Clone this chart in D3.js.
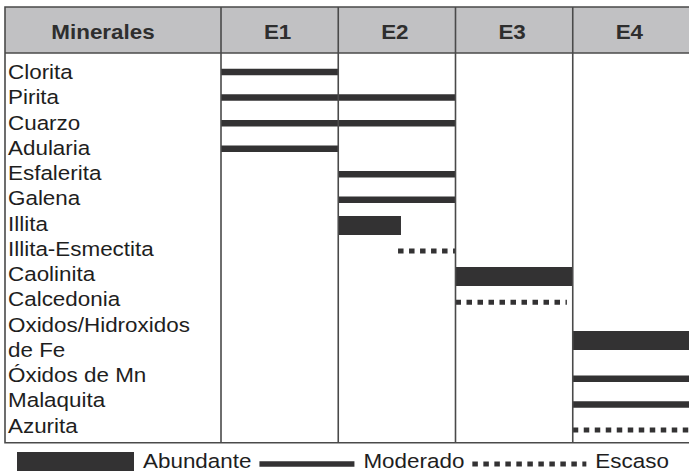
<!DOCTYPE html>
<html>
<head>
<meta charset="utf-8">
<script src="https://cdn.jsdelivr.net/npm/d3@7"></script>
<style>
  html, body { margin: 0; padding: 0; background: #fff; }
  svg { display: block; font-family: "Liberation Sans", Arial, sans-serif; }
</style>
</head>
<body>
<div id="chart"></div>
<script>
// stages (columns) and minerals (rows, "\n" = two text lines)
const stages = ["E1", "E2", "E3", "E4"];
const minerals = [
  "Clorita", "Pirita", "Cuarzo", "Adularia", "Esfalerita", "Galena", "Illita",
  "Illita-Esmectita", "Caolinita", "Calcedonia", "Oxidos/Hidroxidos\nde Fe",
  "Óxidos de Mn", "Malaquita", "Azurita"
];
const levels = ["Abundante", "Moderado", "Escaso"];

// occurrence: mineral, start stage, end stage (0 = start of E1, 4 = end of E4), abundance
const occMineral = ["Clorita", "Pirita", "Cuarzo", "Adularia", "Esfalerita", "Galena", "Illita",
  "Illita-Esmectita", "Caolinita", "Calcedonia", "Oxidos/Hidroxidos\nde Fe", "Óxidos de Mn",
  "Malaquita", "Azurita"];
const occStart = [0, 0, 0, 0, 1, 1, 1, 1.51, 2, 2, 3, 3, 3, 3];
const occEnd = [1, 2, 2, 1, 2, 2, 1.535, 2, 3, 2.95, 4, 4, 4, 4];
const occLevel = ["Moderado", "Moderado", "Moderado", "Moderado", "Moderado", "Moderado", "Abundante",
  "Escaso", "Abundante", "Escaso", "Abundante", "Moderado", "Moderado", "Escaso"];

const width = 689;
const height = 472;
const ink = "#333233";
const grid = "#4a4a4a";
const sx = 1.15; // the original lettering is slightly stretched

const styles = {
  Abundante: { w: 19, dash: null },
  Moderado: { w: 6.5, dash: null },
  Escaso: { w: 5, dash: "5.5,5.5" }
};

const svg = d3.select("#chart").append("svg")
  .attr("width", width)
  .attr("height", height)
  .attr("viewBox", [0, 0, width, height]);

const tLeft = 5, tTop = 7, headBottom = 53, tBottom = 442.7;

const x = d3.scaleLinear().domain([0, stages.length]).range([221, 690]);

// text line index for each mineral
let line = 0;
const rows = minerals.map(m => {
  const parts = m.split("\n");
  const r = { name: m, parts, first: line, mid: line + (parts.length - 1) / 2 };
  line += parts.length;
  return r;
});
const rowByName = new Map(rows.map(r => [r.name, r]));

const yLabel = d3.scaleLinear().domain([0, line - 1]).range([72, 425.7]);
const yBar = d3.scaleLinear().domain([0, line - 1]).range([72, 430]);

// header band
svg.append("rect")
  .attr("x", tLeft).attr("y", tTop)
  .attr("width", width - tLeft + 2).attr("height", headBottom - tTop)
  .attr("fill", "#c1c1c3");

// header texts (sit a little left of the column centres, as drawn)
const heads = ["Minerales"].concat(stages);
const headCenters = [(tLeft + x(0)) / 2 - 10].concat(stages.map((s, i) => (x(i) + x(i + 1)) / 2 - 2));
svg.append("g")
  .selectAll("text")
  .data(heads)
  .join("text")
  .attr("transform", (d, i) => `translate(${headCenters[i]},${39}) scale(${sx},1)`)
  .attr("text-anchor", "middle")
  .attr("font-size", "19.5px")
  .attr("font-weight", "bold")
  .attr("fill", "#2e2e2e")
  .text(d => d);

// mineral labels
svg.append("g")
  .selectAll("text")
  .data(rows.flatMap(r => r.parts.map((p, k) => ({ text: p, line: r.first + k }))))
  .join("text")
  .attr("transform", d => `translate(${8},${yLabel(d.line) + 7}) scale(${sx},1)`)
  .attr("font-size", "19.5px")
  .attr("fill", "#1e1e1e")
  .text(d => d.text);

// occurrence bars
const occ = occMineral.map((m, i) => ({ m, s: occStart[i], e: occEnd[i], level: occLevel[i] }));
svg.append("g")
  .selectAll("line")
  .data(occ)
  .join("line")
  .attr("x1", d => x(d.s))
  .attr("x2", d => x(d.e))
  .attr("y1", d => yBar(rowByName.get(d.m).mid))
  .attr("y2", d => yBar(rowByName.get(d.m).mid))
  .attr("stroke", ink)
  .attr("stroke-width", d => styles[d.level].w)
  .attr("stroke-dasharray", d => styles[d.level].dash);

// table lines
const g = svg.append("g")
  .attr("stroke", grid)
  .attr("stroke-width", 1.6)
  .attr("fill", "none");

g.append("path")
  .attr("d", `M${width + 2},${tTop}H${tLeft}V${tBottom}H${width + 2}`);
g.append("line")
  .attr("x1", tLeft).attr("x2", width + 2)
  .attr("y1", headBottom).attr("y2", headBottom);
g.selectAll(".col")
  .data(d3.range(stages.length))
  .join("line")
  .attr("class", "col")
  .attr("x1", d => x(d)).attr("x2", d => x(d))
  .attr("y1", tTop).attr("y2", tBottom);

// legend
const swatchW = { Abundante: 117, Moderado: 95, Escaso: 114 };
const legend = svg.append("g");
let lx = 17;
const ly = 461.5;
levels.forEach(level => {
  const st = styles[level];
  const cy = level === "Abundante" ? ly : ly + 2.5;
  legend.append("line")
    .attr("x1", lx).attr("x2", lx + swatchW[level])
    .attr("y1", cy).attr("y2", cy)
    .attr("stroke", ink)
    .attr("stroke-width", level === "Moderado" ? 5.6 : st.w)
    .attr("stroke-dasharray", st.dash);
  lx += swatchW[level] + 9;
  const t = legend.append("text")
    .attr("transform", `translate(${lx},${468}) scale(${sx},1)`)
    .attr("font-size", "19.5px")
    .attr("fill", "#1e1e1e")
    .text(level);
  lx += t.node().getComputedTextLength() * sx + 8;
});
</script>
</body>
</html>
